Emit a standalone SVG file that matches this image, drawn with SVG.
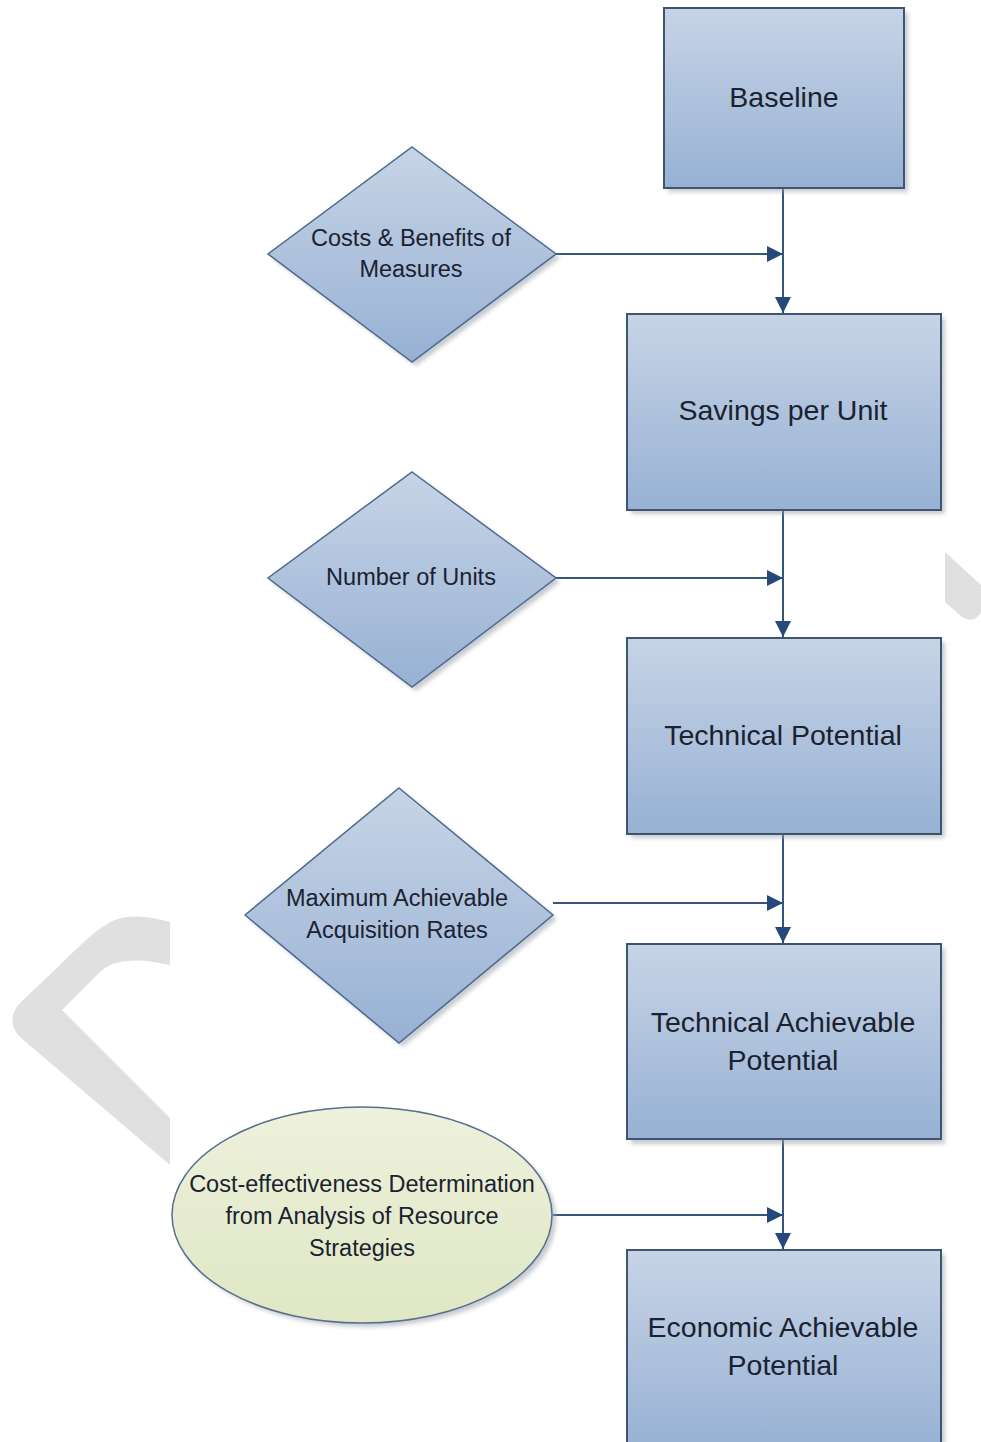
<svg xmlns="http://www.w3.org/2000/svg" width="981" height="1442" viewBox="0 0 981 1442">
<style>
.box{fill:url(#gb);stroke:#3e5470;stroke-width:2}
.dia{fill:url(#gb);stroke:#4a6a8e;stroke-width:1.5}
.sh{fill:#9aa0a8;opacity:0.55;filter:url(#blur)}
.t{font-family:"Liberation Sans",Arial,sans-serif;fill:#1a2230;text-anchor:middle}
.tb{font-size:28.5px}
.td{font-size:23.5px}
.con{stroke:#34557c;stroke-width:2;fill:none}
.wm{fill:#e0e0e0}
</style>
<defs>
<linearGradient id="gb" x1="0" y1="0" x2="0" y2="1">
<stop offset="0" stop-color="#c7d4e6"/>
<stop offset="1" stop-color="#97b1d4"/>
</linearGradient>
<linearGradient id="gg" x1="0" y1="0" x2="0" y2="1">
<stop offset="0" stop-color="#eef1dc"/>
<stop offset="1" stop-color="#dfe7c4"/>
</linearGradient>
<filter id="blur" x="-10%" y="-10%" width="120%" height="120%"><feGaussianBlur stdDeviation="2"/></filter>
<marker id="ah2" viewBox="0 0 10 10" refX="10" refY="5" markerWidth="16" markerHeight="16" orient="auto" markerUnits="userSpaceOnUse">
<path d="M0,0 L10,5 L0,10 Z" fill="#24497a"/>
</marker>
</defs>

<g id="watermark">
<path class="wm" d="M170,922 C150,916 130,914 115,920 C100,926 80,945 60,965 L20,1003 C10,1013 10,1027 20,1037 L170,1165 L170,1118 L62,1010 L100,972 C115,958 140,958 170,965 Z"/>
<path class="wm" d="M945,552 L981,585 L981,612 C977,620 970,622 962,617 L945,602 Z"/>
</g>

<g id="connectors">
<line class="con" x1="783" y1="189" x2="783" y2="313" marker-end="url(#ah2)"/>
<line class="con" x1="556" y1="254" x2="783" y2="254" marker-end="url(#ah2)"/>
<line class="con" x1="783" y1="511" x2="783" y2="637" marker-end="url(#ah2)"/>
<line class="con" x1="556" y1="578" x2="783" y2="578" marker-end="url(#ah2)"/>
<line class="con" x1="783" y1="835" x2="783" y2="943" marker-end="url(#ah2)"/>
<line class="con" x1="553" y1="903" x2="783" y2="903" marker-end="url(#ah2)"/>
<line class="con" x1="783" y1="1140" x2="783" y2="1249" marker-end="url(#ah2)"/>
<line class="con" x1="553" y1="1215" x2="783" y2="1215" marker-end="url(#ah2)"/>
</g>

<g id="baseline">
<rect class="sh" x="668" y="12" width="240" height="180"/>
<rect class="box" x="664" y="8" width="240" height="180"/>
<text class="t tb" x="784" y="107">Baseline</text>
</g>

<g id="savings">
<rect class="sh" x="631" y="318" width="314" height="196"/>
<rect class="box" x="627" y="314" width="314" height="196"/>
<text class="t tb" x="783" y="420">Savings per Unit</text>
</g>

<g id="technical">
<rect class="sh" x="631" y="642" width="314" height="196"/>
<rect class="box" x="627" y="638" width="314" height="196"/>
<text class="t tb" x="783" y="745">Technical Potential</text>
</g>

<g id="tech-achievable">
<rect class="sh" x="631" y="948" width="314" height="196"/>
<rect class="box" x="627" y="944" width="314" height="195"/>
<text class="t tb" x="783" y="1032">Technical Achievable</text>
<text class="t tb" x="783" y="1070">Potential</text>
</g>

<g id="economic">
<rect class="sh" x="631" y="1254" width="314" height="200"/>
<rect class="box" x="627" y="1250" width="314" height="200"/>
<text class="t tb" x="783" y="1337">Economic Achievable</text>
<text class="t tb" x="783" y="1375">Potential</text>
</g>

<g id="costs-benefits">
<polygon class="sh" points="416,151 560,258 416,366 272,258"/>
<polygon class="dia" points="412,147 556,254 412,362 268,254"/>
<text class="t td" x="411" y="246">Costs &amp; Benefits of</text>
<text class="t td" x="411" y="277">Measures</text>
</g>

<g id="number-units">
<polygon class="sh" points="416,476 560,582 416,691 272,582"/>
<polygon class="dia" points="412,472 556,578 412,687 268,578"/>
<text class="t td" x="411" y="585">Number of Units</text>
</g>

<g id="acquisition">
<polygon class="sh" points="403,792 557,919 403,1047 249,919"/>
<polygon class="dia" points="399,788 553,915 399,1043 245,915"/>
<text class="t td" x="397" y="906">Maximum Achievable</text>
<text class="t td" x="397" y="938">Acquisition Rates</text>
</g>

<g id="cost-effectiveness">
<ellipse class="sh" cx="366" cy="1219" rx="190" ry="108"/>
<ellipse cx="362" cy="1215" rx="190" ry="108" fill="url(#gg)" stroke="#56708e" stroke-width="1.5"/>
<text class="t td" x="362" y="1192">Cost-effectiveness Determination</text>
<text class="t td" x="362" y="1224">from Analysis of Resource</text>
<text class="t td" x="362" y="1256">Strategies</text>
</g>
</svg>
